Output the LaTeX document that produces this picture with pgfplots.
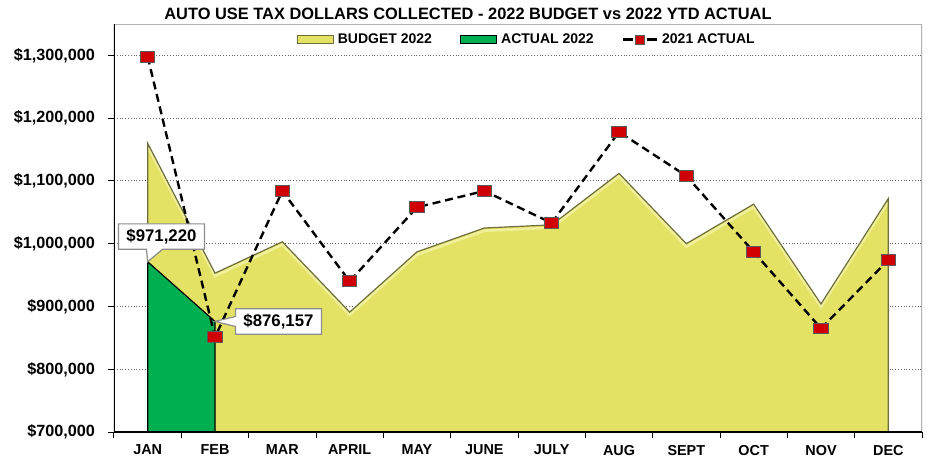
\documentclass[border=0pt]{standalone}
\usepackage{fontspec}
\setmainfont{Liberation Sans}
\usepackage{pgfplots}
\pgfplotsset{compat=1.18}
\usetikzlibrary{shapes.callouts}

\definecolor{budget}{HTML}{E3E264}
\definecolor{budgetedge}{HTML}{6E6E3C}
\definecolor{budgetlight}{HTML}{F1F09A}
\definecolor{actual}{HTML}{00B050}
\definecolor{mark21}{HTML}{D00000}

\begin{document}
\begin{tikzpicture}[font=\bfseries\fontsize{7.2}{8.6}\selectfont]
\path[use as bounding box] (-57pt,-12.5pt) rectangle (410.5pt,216pt);
\begin{axis}[
    scale only axis,
    width=404pt, height=204pt,
    xmin=0.5, xmax=12.5,
    ymin=700000, ymax=1350000,
    xtick={0.5,1.5,...,12.5},
    x tick label as interval,
    xticklabels={JAN,FEB,MAR,APRIL,MAY,JUNE,JULY,AUG,SEPT,OCT,NOV,DEC},
    ytick={700000,800000,900000,1000000,1100000,1200000,1300000},
    yticklabels={{\$700,000},{\$800,000},{\$900,000},{\$1,000,000},{\$1,100,000},{\$1,200,000},{\$1,300,000}},
    scaled y ticks=false,
    xtick pos=left, ytick pos=left,
    tick align=outside,
    major tick length=3pt,
    tick style={black, line width=0.5pt},
    axis line style={draw=none},
    ymajorgrids,
    grid style={densely dotted, black!60, line width=0.45pt},
    x tick label style={font=\bfseries\fontsize{7.2}{8.6}\selectfont},
    y tick label style={font=\bfseries\fontsize{8.1}{9.6}\selectfont, xshift=-3pt},
    legend style={at={(0.512,0.993)}, anchor=north, draw=none, fill=none,
        font=\bfseries\fontsize{7}{8}\selectfont, inner sep=1pt,
        /tikz/every even column/.append style={column sep=12pt}},
    legend columns=3,
    legend cell align=left,
]
% budget 2022 area
\addplot[fill=budget, draw=none, forget plot] coordinates {
(1,700000) (1,1160000) (2,953000) (3,1003000) (4,891000) (5,987000) (6,1025000)
(7,1030000) (8,1112000) (9,1000000) (10,1063000) (11,904000) (12,1072000) (12,700000)
};
\addplot[budgetlight, line width=1.3pt, yshift=-1.4pt, forget plot] coordinates {
(1,1160000) (2,953000) (3,1003000) (4,891000) (5,987000) (6,1025000)
(7,1030000) (8,1112000) (9,1000000) (10,1063000) (11,904000) (12,1072000)
};
\addplot[budgetedge, line width=0.6pt, forget plot] coordinates {
(1,700000) (1,1160000) (2,953000) (3,1003000) (4,891000) (5,987000) (6,1025000)
(7,1030000) (8,1112000) (9,1000000) (10,1063000) (11,904000) (12,1072000) (12,700000)
};

% actual 2022 area
\addplot[fill=actual, draw=black, line width=0.6pt, forget plot] coordinates {
(1,700000) (1,971220) (2,876157) (2,700000)
};

% 2021 actual
\addplot[black, line width=1.2pt, dash pattern=on 4pt off 2.4pt,
    mark=square*, mark size=2.7pt,
    mark options={solid, fill=mark21, draw=black!65, line width=0.5pt, xscale=1.35},
    forget plot] coordinates {
(1,1298000) (2,851000) (3,1084000) (4,940000) (5,1058000) (6,1084000)
(7,1033000) (8,1178000) (9,1108000) (10,987000) (11,865000) (12,974000)
};

\addlegendimage{legend image code/.code={\draw[fill=budget, draw=budgetedge, line width=0.6pt] (0pt,-2pt) rectangle (18pt,2pt);}}
\addlegendentry{BUDGET 2022}
\addlegendimage{legend image code/.code={\draw[fill=actual, draw=black, line width=0.6pt] (0pt,-2pt) rectangle (18pt,2pt);}}
\addlegendentry{ACTUAL 2022}
\addlegendimage{legend image code/.code={
    \draw[black, line width=1.2pt] (0pt,0pt) -- (5pt,0pt) (12pt,0pt) -- (17pt,0pt);
    \draw[fill=mark21, draw=black!65, line width=0.5pt] (6.2pt,-2.3pt) rectangle (10.8pt,2.3pt);}}
\addlegendentry{2021 ACTUAL}

\draw[black!30, line width=1pt] (rel axis cs:0,1) -- (rel axis cs:1,1) -- (rel axis cs:1,0);
\draw[black, line width=0.6pt] (rel axis cs:0,1) -- (rel axis cs:0,0) -- (rel axis cs:1,0);

\node[rectangle callout, draw=black!45, fill=white, line width=0.6pt,
    font=\bfseries\fontsize{8.4}{10}\selectfont, inner xsep=4pt, inner ysep=2.6pt,
    callout pointer width=8pt,
    callout absolute pointer={(axis cs:1,971220)}] at (axis cs:1.205,1011300) {\$971,220};
\node[rectangle callout, draw=black!45, fill=white, line width=0.6pt,
    font=\bfseries\fontsize{8.4}{10}\selectfont, inner xsep=4pt, inner ysep=2.6pt,
    callout pointer width=5pt,
    callout absolute pointer={(axis cs:2,876157)}] at (axis cs:2.943,876000) {\$876,157};
\end{axis}
\node[font=\bfseries\fontsize{8.2}{9.8}\selectfont] at (177pt,209pt) {AUTO USE TAX DOLLARS COLLECTED - 2022 BUDGET vs 2022 YTD ACTUAL};
\end{tikzpicture}
\end{document}
